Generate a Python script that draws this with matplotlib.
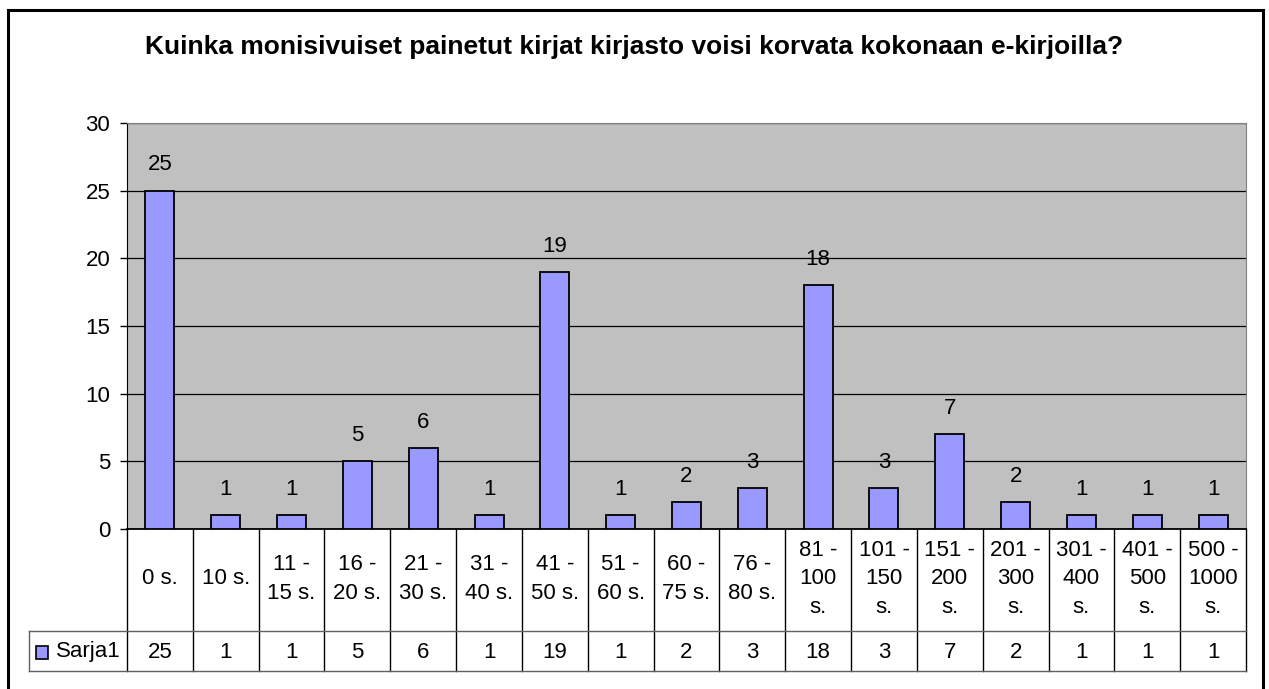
import matplotlib
matplotlib.use("Agg")
import matplotlib.pyplot as plt
from matplotlib.patches import Rectangle
from matplotlib.lines import Line2D
import matplotlib.transforms as mtransforms

plt.rcParams['font.family'] = ['Liberation Sans', 'DejaVu Sans']

title = "Kuinka monisivuiset painetut kirjat kirjasto voisi korvata kokonaan e-kirjoilla?"
categories = ["0 s.", "10 s.", "11 -\n15 s.", "16 -\n20 s.", "21 -\n30 s.", "31 -\n40 s.",
              "41 -\n50 s.", "51 -\n60 s.", "60 -\n75 s.", "76 -\n80 s.", "81 -\n100\ns.",
              "101 -\n150\ns.", "151 -\n200\ns.", "201 -\n300\ns.", "301 -\n400\ns.",
              "401 -\n500\ns.", "500 -\n1000\ns."]
values = [25, 1, 1, 5, 6, 1, 19, 1, 2, 3, 18, 3, 7, 2, 1, 1, 1]
series_name = "Sarja1"
yticks = [0, 5, 10, 15, 20, 25, 30]

FS = 16
W, H = 1269, 689
fig = plt.figure(figsize=(W / 100, H / 100), dpi=100)

def fx(px):
    return px / W

def fy(py):
    return 1 - py / H

# outer frame
fig.add_artist(Rectangle((fx(7.5), fy(700)), fx(1263) - fx(7.5), fy(10) - fy(700),
                         transform=fig.transFigure, fill=False, edgecolor='black', lw=2.2))

left, right, top, bottom = 127, 1246, 123, 529
ax = fig.add_axes([fx(left), fy(bottom), fx(right) - fx(left), fy(top) - fy(bottom)])
ax.set_facecolor('#C0C0C0')
n = len(values)
x = list(range(n))
ax.bar(x, values, width=0.44, color='#9999FF', edgecolor='black', linewidth=1.3, zorder=3)
ax.set_xlim(-0.5, n - 0.5)
ax.set_ylim(0, 30)
ax.set_yticks(yticks)
ax.set_yticklabels([str(t) for t in yticks], fontsize=FS)
ax.yaxis.grid(True, color='black', linewidth=0.9, zorder=1)
ax.set_axisbelow(True)
ax.set_xticks([])
ax.tick_params(axis='y', direction='out', length=5, width=1, pad=7, colors='black')
for s in ['top', 'right']:
    ax.spines[s].set_color('#808080')
ax.spines['left'].set_color('black')
ax.spines['bottom'].set_color('black')
ax.spines['bottom'].set_linewidth(1.3)

for xi, v in zip(x, values):
    ax.annotate(str(v), (xi, v), xytext=(0, 11), textcoords='offset points',
                ha='center', va='bottom', fontsize=FS, zorder=4)

fig.text(0.5, fy(47), title, ha='center', va='center', fontsize=19, fontweight='bold')

# data table below axes: x in data coords, y in figure coords
trans = mtransforms.blended_transform_factory(ax.transData, fig.transFigure)
row1_bot, row2_bot = 631, 671
for i in range(n + 1):
    xb = i - 0.5
    fig.add_artist(Line2D([xb, xb], [fy(bottom), fy(row2_bot)], transform=trans,
                          color='black', lw=1.0))
for yb in [row1_bot, row2_bot]:
    fig.add_artist(Line2D([fx(29), fx(right)], [fy(yb), fy(yb)], transform=fig.transFigure,
                          color='#606060', lw=1.0))
fig.add_artist(Line2D([fx(29), fx(29)], [fy(row1_bot), fy(row2_bot)], transform=fig.transFigure,
                      color='#606060', lw=1.0))
for xi, cat, v in zip(x, categories, values):
    fig.text(xi, fy((bottom + row1_bot) / 2 - 1), cat, transform=trans, ha='center', va='center',
             fontsize=FS, linespacing=1.45, multialignment='center')
    fig.text(xi, fy((row1_bot + row2_bot) / 2 + 1), str(v), transform=trans, ha='center',
             va='center', fontsize=FS)

# legend key in table
fig.add_artist(Rectangle((fx(36), fy(659)), fx(48) - fx(36), fy(646) - fy(659),
                         transform=fig.transFigure, facecolor='#9999FF', edgecolor='black', lw=1.2))
fig.text(fx(56), fy(652), series_name, ha='left', va='center', fontsize=FS)

fig.savefig('out.png', dpi=100)
